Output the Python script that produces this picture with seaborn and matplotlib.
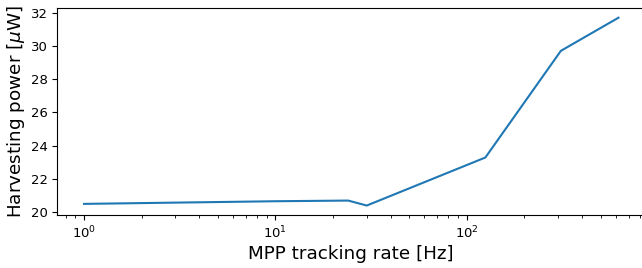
import pandas as pd
import matplotlib
matplotlib.use("Agg")
import matplotlib.pyplot as plt
import seaborn as sns

# MPP tracking rate (Hz) vs harvested power (uW)
rate_hz = [1, 10, 24, 30, 125, 310, 620]
power_uw = [20.48, 20.64, 20.68, 20.38, 23.28, 29.72, 31.72]

data = pd.DataFrame({"rate": rate_hz, "power": power_uw})

fig, ax = plt.subplots(figsize=(6.42, 2.68), dpi=100)
fig.subplots_adjust(left=0.0893, right=1.005, top=0.969, bottom=0.198)

sns.lineplot(data=data, x="rate", y="power", ax=ax, color="#1f77b4", linewidth=1.5)
ax.set_xscale("log")

ax.set_xlabel("MPP tracking rate [Hz]", fontsize=13.2, labelpad=2.5)
ax.set_ylabel(r"Harvesting power [$\mu$W]", fontsize=13.2, labelpad=2.5)
ax.tick_params(labelsize=9.5)

fig.savefig("out.png", dpi=100)
